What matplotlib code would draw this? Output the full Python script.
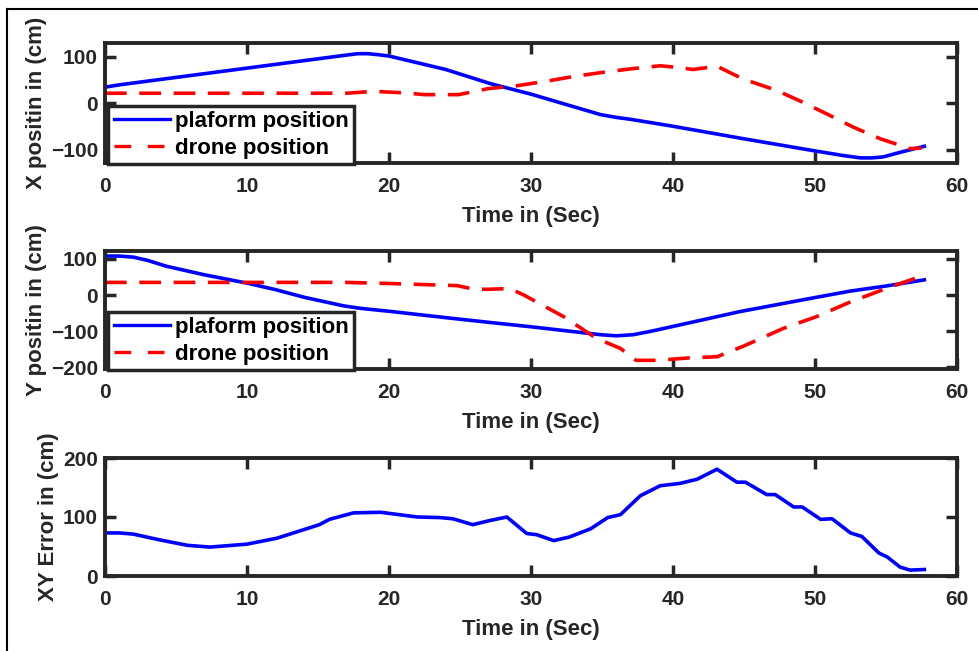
import numpy as np
import matplotlib.pyplot as plt
from matplotlib.lines import Line2D

# X position (cm) vs time (s)
t_px = [0, 1, 5, 10, 15, 17, 17.8, 18.5, 19.2, 20, 24, 27.1, 30, 34.9, 36, 37, 40, 45, 50,
        52, 53.2, 54, 54.8, 56, 57.7]
x_platform = [35, 40, 56, 76, 96, 104, 107, 107, 105, 102, 73, 43, 20, -24, -30, -34, -49, -76, -102,
              -112, -117, -117, -115, -105, -92]

t_dx = [0, 5, 10, 15, 17, 18.9, 21, 22.5, 24.9, 27, 29, 31.3, 33, 35.3, 37.2, 39.1, 40.5, 41.4, 43.1,
        44.9, 47.3, 48.9, 50.8, 52.7, 54.6, 56.7, 57.5]
x_drone = [22, 22, 22, 22, 22, 26, 23, 19, 19, 32, 38, 49, 58, 68, 75, 81, 77, 73, 80,
           53, 28, 6, -22, -51, -76, -97, -96]

# Y position (cm) vs time (s)
t_py = [0, 1, 2, 3, 4.3, 7, 10, 12, 14, 16.8, 18, 20, 24.3, 27.1, 30, 34.9, 36, 37.2, 38.5, 40,
        44.7, 50, 52.5, 55, 57.7]
y_platform = [108, 108, 105, 96, 80, 56, 33, 15, -6, -30, -37, -45, -64, -76, -88, -110, -113, -110,
              -100, -87, -46, -7, 11, 25, 42]

t_dy = [0, 5, 10, 17, 20, 24.8, 26, 27, 28.5, 29.5, 32.3, 34.6, 36.3, 37.4, 38.9, 41.2, 43.1,
        45, 47.8, 50.1, 52.5, 55, 57.7]
y_drone = [35, 35, 35, 35, 32, 26, 16, 16, 18, 0, -60, -120, -148, -181, -181, -174, -171,
           -141, -92, -60, -19, 18, 55]

# XY error (cm) vs time (s)
t_err = [0, 1, 2, 3.9, 5.8, 7.4, 10, 12.1, 15.1, 15.8, 17.5, 19.4, 22, 23.6, 24.5, 25.9, 27.1, 28.3,
         29.7, 30.4, 31.6, 32.7, 34.2, 35.4, 36.3, 37.7, 39.1, 40.5, 41.7, 43.1, 44.5, 45.1,
         46.6, 47.2, 48.5, 49.1, 50.4, 51.2, 52.5, 53.3, 54.5, 55.1, 56, 56.7, 57.7]
xy_error = [73, 73, 71, 61, 52, 49, 54, 64, 87, 96, 107, 108, 100, 99, 97, 87, 94, 100,
            72, 70, 60, 66, 80, 99, 104, 136, 153, 157, 164, 181, 159, 159,
            138, 138, 117, 117, 96, 97, 73, 67, 39, 32, 15, 10, 11]

TEXT = "#262626"
FONT = "Liberation Sans"
plt.rcParams["font.family"] = [FONT, "DejaVu Sans"]
plt.rcParams["font.weight"] = "bold"
plt.rcParams["lines.solid_joinstyle"] = "round"
plt.rcParams["lines.dash_joinstyle"] = "round"

W, H = 979, 651
fig = plt.figure(figsize=(W / 100, H / 100), dpi=100)


def make_axes(top_px, bottom_px):
    left, right = 105, 957
    return fig.add_axes([left / W, 1 - bottom_px / H, (right - left) / W, (bottom_px - top_px) / H])


def style(ax, ylabel, ylim, yticks):
    ax.set_xlim(0, 60)
    ax.set_ylim(*ylim)
    ax.set_xticks([0, 10, 20, 30, 40, 50, 60])
    ax.set_yticks(yticks)
    ax.tick_params(direction="in", length=8, width=2.5, colors=TEXT, labelsize=15,
                   top=True, right=True)
    ax.tick_params(axis="x", pad=10)
    ax.tick_params(axis="y", pad=5)
    for lab in ax.get_xticklabels() + ax.get_yticklabels():
        lab.set_fontweight("bold")
    for sp in ax.spines.values():
        sp.set_linewidth(2.8)
        sp.set_color(TEXT)
    ax.set_xlabel("Time in (Sec)", fontsize=16, fontweight="bold", color=TEXT, labelpad=7)
    ax.set_ylabel(ylabel, fontsize=16, fontweight="bold", color=TEXT, labelpad=3)


def add_legend(ax):
    handles = [Line2D([], [], color="blue", lw=2.4),
               Line2D([], [], color="red", lw=2.4, dashes=(5, 5))]
    leg = ax.legend(handles, ["plaform position", "drone position"], loc="lower left",
                    bbox_to_anchor=(0.004, -0.01), frameon=True, fancybox=False,
                    handlelength=2.5, handletextpad=0.25, borderpad=0.25, labelspacing=0.25,
                    borderaxespad=0, prop={"weight": "bold", "size": 16})
    leg.get_frame().set_edgecolor(TEXT)
    leg.get_frame().set_linewidth(2.5)
    leg.get_frame().set_alpha(1)


ax1 = make_axes(43, 163)
ax1.plot(t_px, x_platform, color="blue", lw=2.6)
ax1.plot(t_dx, x_drone, color="red", lw=2.6, dashes=(6, 3.5))
style(ax1, "X positin in (cm)", (-128, 130), [-100, 0, 100])
add_legend(ax1)

ax2 = make_axes(251, 369)
ax2.plot(t_py, y_platform, color="blue", lw=2.6)
ax2.plot(t_dy, y_drone, color="red", lw=2.6, dashes=(6, 3.5))
style(ax2, "Y positin in (cm)", (-205, 122), [-200, -100, 0, 100])
add_legend(ax2)

ax3 = make_axes(458, 576)
ax3.plot(t_err, xy_error, color="blue", lw=2.6)
style(ax3, "XY Error in (cm)", (0, 200), [0, 100, 200])

# cropped figure frame: only left and top edges visible
fig.add_artist(Line2D([7 / W, 7 / W], [0, 1 - 9 / H], transform=fig.transFigure, color="black", lw=1.5))
fig.add_artist(Line2D([7 / W, 1], [1 - 9 / H, 1 - 9 / H], transform=fig.transFigure, color="black", lw=1.5))

fig.savefig("out.png", dpi=100)
